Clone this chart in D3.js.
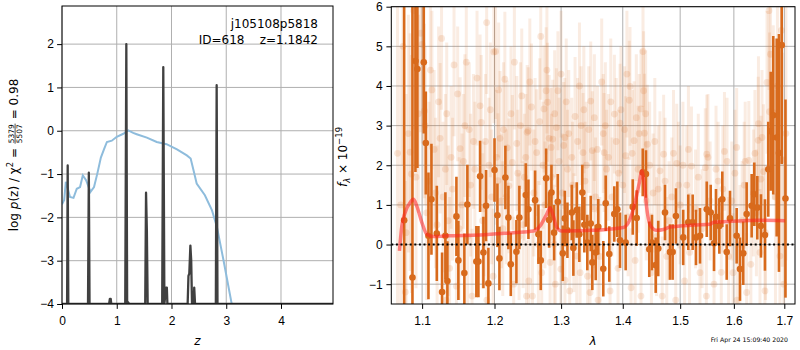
<!DOCTYPE html>
<html lang="en">
<head>
    <meta charset="UTF-8">
    <title>Redshift fit j105108p5818</title>
    <style>
        body {
            margin: 0;
            background-color: #ffffff;
        }
        svg {
            display: block;
            font-family: "DejaVu Sans", sans-serif;
        }
        .tick text {
            font-size: 12px;
            fill: #000;
        }
        .tick line {
            stroke: #000;
        }
    </style>
    <script src="https://d3js.org/d3.v7.min.js"></script>
</head>
<body>
    <svg width="800" height="350"></svg>
    <script>
        // p(z) curve (log, floored at -4)
        const pzZ = [0, 0.093, 0.104, 0.115, 0.475, 0.49, 0.503, 0.86, 0.875, 0.89, 0.90,
            1.155, 1.175, 1.19, 1.20, 1.23, 1.52, 1.535, 1.55, 1.565,
            1.83, 1.85, 1.87, 1.90, 1.915, 1.925,
            2.295, 2.31, 2.325, 2.345, 2.36, 2.375, 2.405, 2.415, 2.43,
            2.81, 2.825, 2.84, 4.95];
        const pzLog = [-4, -4, -0.8, -4, -4, -0.97, -4, -4, -3.88, -3.88, -4,
            -4, 2.0, -4, -3.95, -4, -4, -1.43, -2.3, -4,
            -4, 1.47, -4, -3.62, -3.62, -4,
            -4, -3.35, -3.3, -2.65, -3.0, -4, -4, -3.62, -4,
            -4, 1.05, -4, -4];

        // chi2 curve
        const chiZ = [0.0, 0.04, 0.07, 0.09, 0.146, 0.21, 0.27, 0.33, 0.38, 0.44, 0.52, 0.585,
            0.645, 0.71, 0.77, 0.82, 0.91, 1.0, 1.12, 1.21, 1.3, 1.365, 1.55, 1.73, 1.91,
            2.10, 2.28, 2.35, 2.40, 2.46, 2.61, 2.74, 2.83, 2.95, 3.10];
        const chiLog = [-1.7, -1.6, -1.18, -1.26, -1.53, -1.55, -1.34, -1.30, -1.03, -1.14, -1.41, -1.30,
            -0.99, -0.62, -0.42, -0.26, -0.23, -0.14, -0.07, 0.01, -0.05, -0.08, -0.16, -0.26, -0.31,
            -0.43, -0.57, -0.64, -0.9, -1.22, -1.49, -1.84, -2.22, -2.99, -4.0];

        const zTicks = [0, 1, 2, 3, 4];
        const logTicks = [-4, -3, -2, -1, 0, 1, 2];
        const lamTicks = [1.1, 1.2, 1.3, 1.4, 1.5, 1.6, 1.7];
        const fluxTicks = [-1, 0, 1, 2, 3, 4, 5, 6];

        // binned spectrum
        const binLam = [
            1.0765, 1.0873, 1.0912, 1.0938, 1.1022, 1.1049, 1.1084, 1.1124, 1.1196, 1.1267,
            1.1312, 1.1339, 1.1463, 1.1490, 1.1573, 1.1615, 1.1741, 1.1770, 1.1794, 1.1841,
            1.1879, 1.1912, 1.2000, 1.2042, 1.2071, 1.2158, 1.2202, 1.2237, 1.2320, 1.2364,
            1.2460, 1.2499, 1.2600, 1.2650, 1.2686, 1.2768, 1.2814, 1.2850, 1.2891, 1.2948,
            1.3026, 1.3058, 1.3099, 1.3168, 1.3193, 1.3247, 1.3288, 1.3336, 1.3368, 1.3416,
            1.3471, 1.3497, 1.3552, 1.3594, 1.3676, 1.3716, 1.3775, 1.3858, 1.3909, 1.3954,
            1.4049, 1.4169, 1.4237, 1.4340, 1.4396, 1.4453, 1.4500, 1.4565, 1.4610, 1.4729,
            1.4817, 1.4865, 1.4924, 1.5055, 1.5147, 1.5227, 1.5288, 1.5362, 1.5487, 1.5561,
            1.5623, 1.5660, 1.5723, 1.5779, 1.5863, 1.5926, 1.6054, 1.6118, 1.6182, 1.6248,
            1.6346, 1.6398, 1.6457, 1.6530, 1.6609, 1.6676, 1.6724, 1.6776, 1.6845, 1.6891,
            1.6947, 1.7024];
        const binFlux = [
            0.61, -0.83, 4.63, 4.43, 4.60, 2.56, 0.22, 1.14, 0.28, -1.20,
            0.22, -0.92, 0.71, -0.40, -0.72, 1.01, -0.43, -0.43, 1.72, -0.20,
            0.98, -0.98, 1.88, 0.74, -0.35, 1.69, 0.68, -0.50, -0.18, 0.68,
            1.25, 0.89, 1.12, 0.26, -0.40, 1.67, 0.62, 1.31, 0.30, 1.08,
            -0.22, 0.66, 0.36, 0.81, -0.09, 0.87, 0.26, 1.31, 0.50, 0.05,
            0.53, -0.45, -0.20, 0.45, -0.61, 1.04, -0.24, 0.77, 0.89, 0.11,
            0.05, 0.95, 0.67, 1.82, 1.78, -0.12, 0.05, -0.52, -0.10, 0.81,
            -0.19, -0.19, 0.72, 0.18, 0.56, 0.56, 0.18, 0.22, 0.89, 0.81,
            0.03, 0.70, 0.47, 1.14, -0.19, 0.66, 0.22, -0.62, -0.22, 0.77,
            0.98, 1.27, 0.93, 0.47, 0.24, 1.90, 2.86, 3.26, 2.70, 2.31,
            5.03, 1.16];
        const binErr = [
            8.0, 7.0, 2.8, 2.5, 1.8, 1.3, 1.6, 1.4, 1.2, 1.0,
            1.1, 1.0, 1.0, 1.0, 1.0, 1.0, 0.9, 0.9, 0.9, 0.9,
            0.9, 0.9, 0.8, 0.8, 0.8, 0.8, 0.8, 0.8, 0.8, 0.8,
            0.8, 0.75, 0.75, 0.75, 0.75, 0.75, 0.7, 0.7, 0.7, 0.7,
            0.7, 0.7, 0.7, 0.7, 0.7, 0.7, 0.7, 0.7, 0.7, 0.7,
            0.7, 0.7, 0.7, 0.7, 0.7, 0.7, 0.7, 0.7, 0.7, 0.7,
            0.7, 0.7, 0.7, 0.6, 0.6, 0.7, 0.7, 0.7, 0.7, 0.7,
            0.7, 0.7, 0.7, 0.7, 0.7, 0.7, 0.7, 0.7, 0.7, 0.7,
            0.7, 0.7, 0.7, 0.7, 0.7, 0.7, 0.7, 0.8, 0.8, 0.8,
            0.8, 0.8, 0.8, 0.8, 0.9, 1.2, 1.5, 2.0, 2.5, 3.0,
            3.0, 2.5];

        // unbinned spectrum (faint)
        const rawLam = [
            1.068, 1.072, 1.075, 1.079, 1.082, 1.0843, 1.086, 1.089, 1.092, 1.095,
            1.098, 1.100, 1.103, 1.106, 1.109, 1.113, 1.116, 1.120, 1.1241, 1.128,
            1.1312, 1.135, 1.139, 1.143, 1.1463, 1.1514, 1.154, 1.158, 1.162, 1.166,
            1.170, 1.1794, 1.181, 1.185, 1.1887, 1.192, 1.196, 1.199, 1.2015, 1.205,
            1.208, 1.212, 1.215, 1.2185, 1.221, 1.226, 1.2325, 1.236, 1.240, 1.244,
            1.248, 1.2496, 1.2505, 1.2545, 1.258, 1.2623, 1.265, 1.2686, 1.2700, 1.2735,
            1.2768, 1.279, 1.2814, 1.2829, 1.2846, 1.287, 1.2891, 1.2926, 1.295, 1.2995,
            1.3058, 1.310, 1.3135, 1.3168, 1.3220, 1.3247, 1.3300, 1.3315, 1.3347, 1.338,
            1.3460, 1.3471, 1.3497, 1.355, 1.3676, 1.3690, 1.3730, 1.3788, 1.3860, 1.3954,
            1.400, 1.4049, 1.4110, 1.4123, 1.4140, 1.4192, 1.4280, 1.4310, 1.4345, 1.4355,
            1.4370, 1.4420, 1.4490, 1.452, 1.4641, 1.4705, 1.476, 1.4850, 1.4938, 1.5080,
            1.512, 1.5205, 1.528, 1.5362, 1.5460, 1.5487, 1.555, 1.5623, 1.570, 1.5820,
            1.590, 1.5985, 1.6054, 1.6118, 1.6220, 1.6248, 1.6290, 1.638, 1.6475, 1.6480,
            1.6510, 1.6530, 1.6580, 1.6609, 1.6650, 1.6690, 1.6700, 1.6776, 1.6911, 1.6960,
            1.7033, 1.078, 1.118, 1.137, 1.150, 1.168, 1.183, 1.198, 1.210, 1.228,
            1.242, 1.256, 1.275, 1.291, 1.302, 1.320, 1.342, 1.352, 1.362, 1.382,
            1.392, 1.409, 1.421, 1.440, 1.458, 1.468, 1.480, 1.500, 1.517, 1.540,
            1.576, 1.596, 1.616, 1.633, 1.644, 1.662, 1.682, 1.699,
            1.104, 1.111, 1.122, 1.126, 1.133, 1.141, 1.148, 1.156, 1.160, 1.164,
            1.172, 1.175, 1.187, 1.194, 1.203, 1.206, 1.213, 1.217, 1.224, 1.229,
            1.234, 1.238, 1.246, 1.252, 1.260, 1.267, 1.272, 1.278, 1.285, 1.290,
            1.297, 1.300, 1.304, 1.308, 1.312, 1.318, 1.326, 1.329, 1.336, 1.340,
            1.344, 1.353, 1.358, 1.365, 1.371, 1.376, 1.380, 1.389, 1.393, 1.397,
            1.403, 1.407, 1.416, 1.423, 1.426, 1.439, 1.446, 1.455, 1.461, 1.473,
            1.488, 1.497, 1.505, 1.515, 1.533, 1.551, 1.566, 1.579, 1.587, 1.602,
            1.620, 1.641, 1.655, 1.672, 1.686, 1.694, 1.132, 1.189, 1.247, 1.306,
            1.359, 1.431, 1.492, 1.548, 1.606];
        const rawFlux = [
            2.3, 1.0, 5.0, 0.3, 2.8, 2.33, 1.78, 5.9, 1.7, 3.3,
            5.33, 5.05, 3.37, 0.8, 1.6, 3.9, 2.4, 0.5, 2.68, 1.2,
            1.9, 0.6, 2.2, 4.53, -1.05, 2.42, 1.0, 3.0, 0.2, 1.5,
            2.6, 3.5, 3.08, 0.9, 5.6, 2.0, 1.2, 4.86, 4.87, 1.61,
            2.68, 0.4, 4.17, 2.44, 1.48, 2.07, 2.55, 0.2, 3.75, 1.7,
            2.83, 2.87, -0.92, 3.47, 1.3, 2.32, 0.0, 5.25, -0.71, 3.42,
            3.88, 3.59, 2.68, -0.45, 2.45, 2.66, 0.01, 2.95, 3.88, -0.62,
            2.70, 1.9, -1.17, 2.2, 3.23, -0.29, -0.71, 3.0, 2.32, 1.6,
            -1.21, 3.62, 2.37, 1.2, 2.8, 2.32, 1.9, -1.17, 3.29, 3.06,
            1.5, 2.24, 3.64, 3.99, -1.09, 2.62, 2.80, 3.42, 4.87, 3.88,
            2.81, 2.53, -0.71, 1.3, 1.86, 2.28, -0.3, 1.2, 2.05, -0.92,
            1.5, 1.98, 0.9, -0.71, 1.94, 2.28, 1.1, -1.0, 1.6, 2.35,
            -0.3, -0.71, 2.45, 0.0, 2.10, -1.21, 2.12, 1.3, 2.63, 3.05,
            -0.2, 1.65, 1.84, -1.17, 4.09, 5.9, 3.35, 3.33, -0.29, 2.14,
            2.80, -1.2, 1.3, -0.6, 0.4, -1.3, 0.6, -0.8, 1.1, -1.0,
            0.5, -1.3, 1.0, -1.0, 1.3, 0.3, -0.8, 0.9, -0.3, 1.2,
            -0.6, 0.7, -0.4, 1.1, 0.2, -1.3, 0.6, 1.0, -0.2, 0.4,
            -0.7, 1.1, 0.6, -0.5, 0.8, 0.3, 1.2, -1.0,
            3.0, 4.4, 3.6, 5.2, 3.3, 1.4, 3.8, 2.1, 4.6, 2.9,
            1.9, 4.2, 2.6, 3.4, 2.2, 3.9, 2.9, 1.2, 3.3, 4.6,
            1.8, 3.0, 2.2, 4.1, 2.6, 3.1, 2.0, 4.4, 1.7, 3.3,
            2.1, 4.3, 2.5, 3.6, 2.8, 1.5, 2.6, 4.0, 3.4, 2.0,
            2.9, 3.2, 2.4, 4.1, 3.0, 2.2, 3.6, 2.6, 1.8, 3.4,
            2.9, 4.3, 2.3, 3.2, 1.9, 3.3, 2.0, 2.6, 1.4, 1.6,
            2.3, 1.5, 2.0, 2.4, 1.7, 2.2, 1.9, 1.4, 2.1, 1.8,
            1.5, 2.3, 2.7, 4.8, 4.0, 5.4, -1.4, -1.4, -1.3, -0.9,
            -1.4, -1.3, -1.4, -1.3, -1.4];
        const rawErr = [
            4.0, 4.0, 3.0, 3.5, 3.0, 3.0, 3.0, 3.0, 2.8, 2.5,
            2.5, 2.5, 2.2, 2.2, 2.0, 2.0, 2.0, 2.0, 1.9, 1.9,
            1.9, 1.9, 1.8, 1.8, 1.8, 1.8, 1.8, 1.8, 1.8, 1.8,
            1.7, 1.8, 1.7, 1.7, 1.8, 1.7, 1.7, 1.8, 1.7, 1.7,
            1.7, 1.7, 1.7, 1.7, 1.7, 1.7, 1.7, 1.6, 1.7, 1.6,
            1.7, 1.6, 1.6, 1.6, 1.6, 1.6, 1.6, 1.6, 1.6, 1.6,
            1.6, 1.5, 1.6, 1.5, 1.5, 1.5, 1.5, 1.5, 1.5, 1.5,
            1.5, 1.5, 1.5, 1.5, 1.5, 1.5, 1.5, 1.5, 1.5, 1.5,
            1.5, 1.5, 1.5, 1.5, 1.5, 1.5, 1.5, 1.5, 1.5, 1.5,
            1.5, 1.5, 1.5, 1.5, 1.5, 1.5, 1.5, 1.5, 1.4, 1.5,
            1.5, 1.5, 1.5, 1.5, 1.5, 1.5, 1.5, 1.5, 1.5, 1.5,
            1.5, 1.5, 1.5, 1.5, 1.5, 1.5, 1.5, 1.5, 1.5, 1.5,
            1.5, 1.5, 1.5, 1.5, 1.5, 1.5, 1.5, 1.6, 1.6, 1.7,
            1.6, 1.6, 1.7, 1.7, 1.8, 2.0, 2.0, 2.2, 2.7, 2.7,
            3.2, 2.8, 1.9, 1.8, 1.8, 1.7, 1.7, 1.7, 1.7, 1.7,
            1.6, 1.6, 1.6, 1.5, 1.5, 1.5, 1.5, 1.5, 1.5, 1.5,
            1.5, 1.5, 1.5, 1.5, 1.5, 1.5, 1.5, 1.5, 1.5, 1.5,
            1.5, 1.5, 1.5, 1.5, 1.6, 1.7, 2.7, 3.2,
            2.0, 2.0, 1.9, 1.8, 1.8, 1.8, 1.7, 1.7, 1.7, 1.7,
            1.7, 1.7, 1.7, 1.7, 1.7, 1.7, 1.7, 1.7, 1.7, 1.7,
            1.6, 1.6, 1.6, 1.6, 1.6, 1.6, 1.6, 1.6, 1.6, 1.6,
            1.6, 1.6, 1.6, 1.6, 1.6, 1.6, 1.6, 1.6, 1.6, 1.6,
            1.6, 1.6, 1.6, 1.6, 1.6, 1.6, 1.6, 1.6, 1.6, 1.6,
            1.6, 1.6, 1.6, 1.6, 1.6, 1.6, 1.6, 1.6, 1.6, 1.6,
            1.6, 1.6, 1.6, 1.6, 1.6, 1.6, 1.6, 1.6, 1.6, 1.6,
            1.6, 1.6, 1.7, 2.2, 2.5, 2.5, 1.6, 1.5, 1.4, 1.3,
            1.3, 1.3, 1.3, 1.3, 1.3];

        // model
        const modelLam = [1.0704, 1.0735, 1.0778, 1.0843, 1.0886, 1.0930, 1.0996, 1.1062, 1.1150, 1.1331,
            1.1794, 1.2275, 1.2574, 1.2676, 1.2778, 1.2829, 1.2871, 1.2932, 1.3010, 1.3514,
            1.4010, 1.4123, 1.4208, 1.4282, 1.4323, 1.4362, 1.4419, 1.4478, 1.4583, 1.4700,
            1.4818, 1.5239, 1.5547, 1.5610, 1.6182, 1.6510, 1.7013];
        const modelFlux = [-0.16, 0.47, 0.81, 1.06, 1.14, 0.97, 0.56, 0.26, 0.20, 0.22,
            0.24, 0.30, 0.34, 0.47, 0.77, 0.93, 0.77, 0.43, 0.34, 0.36,
            0.43, 0.64, 1.06, 1.57, 1.86, 1.57, 0.81, 0.47, 0.36, 0.38,
            0.44, 0.49, 0.51, 0.56, 0.60, 0.61, 0.60];

        const svg = d3.select("svg");
        svg.append("rect").attr("width", 800).attr("height", 350).attr("fill", "#fff");

        const orange = "#d86a1c";
        const gridColor = "#b0b0b0";

        // ---------------- left panel: p(z) ----------------
        const L = { x0: 62, x1: 333, y0: 6, y1: 304 };
        const zx = d3.scaleLinear().domain([0, 4.95]).range([L.x0, L.x1]);
        const zy = d3.scaleLinear().domain([-4, 2.88]).range([L.y1, L.y0]);

        const left = svg.append("g");
        left.append("clipPath").attr("id", "clipL")
            .append("rect").attr("x", L.x0).attr("y", L.y0)
            .attr("width", L.x1 - L.x0).attr("height", L.y1 - L.y0);

        zTicks.forEach(t => {
            left.append("line")
                .attr("x1", zx(t)).attr("x2", zx(t))
                .attr("y1", L.y0).attr("y2", L.y1)
                .attr("stroke", gridColor).attr("stroke-width", 1);
        });
        logTicks.forEach(t => {
            left.append("line")
                .attr("x1", L.x0).attr("x2", L.x1)
                .attr("y1", zy(t)).attr("y2", zy(t))
                .attr("stroke", gridColor).attr("stroke-width", 1);
        });

        const plotL = left.append("g").attr("clip-path", "url(#clipL)");

        const chiLine = d3.line().x((d, i) => zx(chiZ[i])).y(d => zy(d));
        plotL.append("path")
            .attr("d", chiLine(chiLog))
            .attr("fill", "none")
            .attr("stroke", "#8ebcdc")
            .attr("stroke-width", 2);

        const pzLine = d3.line().x((d, i) => zx(pzZ[i])).y(d => zy(d));
        plotL.append("path")
            .attr("d", pzLine(pzLog))
            .attr("fill", "none")
            .attr("stroke", "#404040")
            .attr("stroke-width", 2.3)
            .attr("stroke-linejoin", "round");

        left.append("g")
            .attr("transform", `translate(0,${L.y1})`)
            .call(d3.axisBottom(zx).tickValues(zTicks).tickFormat(d3.format("d"))
                .tickSize(4.9).tickPadding(7.4))
            .call(g => g.select(".domain").remove());

        left.append("g")
            .attr("transform", `translate(${L.x0},0)`)
            .call(d3.axisLeft(zy).tickValues(logTicks).tickFormat(d => d3.format("d")(d).replace("-", "\u2212"))
                .tickSize(4.9).tickPadding(3.2))
            .call(g => g.select(".domain").remove());

        left.append("rect")
            .attr("x", L.x0).attr("y", L.y0)
            .attr("width", L.x1 - L.x0).attr("height", L.y1 - L.y0)
            .attr("fill", "none").attr("stroke", "#000").attr("stroke-width", 1);

        left.append("text")
            .attr("x", 318).attr("y", 27.5)
            .attr("text-anchor", "end").attr("font-size", 12)
            .text("j105108p5818");
        left.append("text")
            .attr("x", 318).attr("y", 43.5)
            .attr("text-anchor", "end").attr("font-size", 12)
            .text("ID=618\u00a0\u00a0\u00a0\u00a0z=1.1842");

        left.append("text")
            .attr("x", (L.x0 + L.x1) / 2).attr("y", 345)
            .attr("text-anchor", "middle").attr("font-size", 12)
            .attr("font-style", "italic")
            .text("z");

        // y label with a stacked fraction
        const ylab = svg.append("g");
        const t1 = ylab.append("text").attr("font-size", 12);
        t1.append("tspan").text("log ");
        t1.append("tspan").attr("font-style", "italic").text("p");
        t1.append("tspan").text("(z) / \u03c7");
        t1.append("tspan").attr("font-size", 8.5).attr("dy", -5).text("2");
        t1.append("tspan").attr("dy", 5).text("\u00a0=\u00a0");
        const w1 = t1.node().getComputedTextLength();
        const num = ylab.append("text").attr("font-size", 7.5).attr("y", -3.6).text("5379");
        const den = ylab.append("text").attr("font-size", 7.5).attr("y", 4.3).text("5507");
        const fw = Math.max(num.node().getComputedTextLength(), den.node().getComputedTextLength());
        num.attr("x", w1 + 1);
        den.attr("x", w1 + 1);
        ylab.append("line")
            .attr("x1", w1 + 0.5).attr("x2", w1 + fw + 1.5)
            .attr("y1", -2.4).attr("y2", -2.4)
            .attr("stroke", "#000").attr("stroke-width", 0.7);
        const t3 = ylab.append("text").attr("font-size", 12)
            .attr("x", w1 + fw + 2).text("\u00a0=\u00a00.98");
        const wTot = w1 + fw + 2 + t3.node().getComputedTextLength();
        ylab.attr("transform", `translate(17.5,${155 + wTot / 2}) rotate(-90)`);

        // ---------------- right panel: spectrum ----------------
        const R = { x0: 391.3, x1: 795, y0: 6.7, y1: 304 };
        const lx = d3.scaleLog().domain([1.06, 1.722]).range([R.x0, R.x1]);
        const fy = d3.scaleLinear().domain([-1.5, 6]).range([R.y1, R.y0]);

        const right = svg.append("g");
        right.append("clipPath").attr("id", "clipR")
            .append("rect").attr("x", R.x0).attr("y", R.y0)
            .attr("width", R.x1 - R.x0).attr("height", R.y1 - R.y0);

        lamTicks.forEach(t => {
            right.append("line")
                .attr("x1", lx(t)).attr("x2", lx(t))
                .attr("y1", R.y0).attr("y2", R.y1)
                .attr("stroke", gridColor).attr("stroke-width", 1);
        });
        fluxTicks.forEach(t => {
            right.append("line")
                .attr("x1", R.x0).attr("x2", R.x1)
                .attr("y1", fy(t)).attr("y2", fy(t))
                .attr("stroke", gridColor).attr("stroke-width", 1);
        });

        const plotR = right.append("g").attr("clip-path", "url(#clipR)");

        // faint unbinned points
        plotR.selectAll(".rawbar").data(rawFlux).enter().append("line")
            .attr("x1", (d, i) => lx(rawLam[i])).attr("x2", (d, i) => lx(rawLam[i]))
            .attr("y1", (d, i) => fy(d - rawErr[i])).attr("y2", (d, i) => fy(d + rawErr[i]))
            .attr("stroke", orange).attr("stroke-opacity", 0.13).attr("stroke-width", 3);
        plotR.selectAll(".rawpt").data(rawFlux).enter().append("circle")
            .attr("cx", (d, i) => lx(rawLam[i])).attr("cy", d => fy(d))
            .attr("r", 3.4)
            .attr("fill", orange).attr("fill-opacity", 0.16);

        // binned points
        plotR.selectAll(".binbar").data(binFlux).enter().append("line")
            .attr("x1", (d, i) => lx(binLam[i])).attr("x2", (d, i) => lx(binLam[i]))
            .attr("y1", (d, i) => fy(d - binErr[i])).attr("y2", (d, i) => fy(d + binErr[i]))
            .attr("stroke", orange).attr("stroke-width", 2.6);
        plotR.selectAll(".binpt").data(binFlux).enter().append("circle")
            .attr("cx", (d, i) => lx(binLam[i])).attr("cy", d => fy(d))
            .attr("r", 3.3)
            .attr("fill", orange);

        // model
        const modelLine = d3.line().x((d, i) => lx(modelLam[i])).y(d => fy(d)).curve(d3.curveMonotoneX);
        plotR.append("path")
            .attr("d", modelLine(modelFlux))
            .attr("fill", "none")
            .attr("stroke", "#ff2020")
            .attr("stroke-opacity", 0.55)
            .attr("stroke-width", 3.5);

        // zero line
        plotR.append("line")
            .attr("x1", R.x0).attr("x2", R.x1)
            .attr("y1", fy(0)).attr("y2", fy(0))
            .attr("stroke", "#000").attr("stroke-width", 2)
            .attr("stroke-dasharray", "2,2.6");

        right.append("g")
            .attr("transform", `translate(0,${R.y1})`)
            .call(d3.axisBottom(lx).tickValues(lamTicks).tickFormat(d3.format(".1f"))
                .tickSize(4.9).tickPadding(7.4))
            .call(g => g.select(".domain").remove());

        right.append("g")
            .attr("transform", `translate(${R.x0},0)`)
            .call(d3.axisLeft(fy).tickValues(fluxTicks).tickFormat(d => d3.format("d")(d).replace("-", "\u2212"))
                .tickSize(4.9).tickPadding(3.8))
            .call(g => g.select(".domain").remove());

        right.append("rect")
            .attr("x", R.x0).attr("y", R.y0)
            .attr("width", R.x1 - R.x0).attr("height", R.y1 - R.y0)
            .attr("fill", "none").attr("stroke", "#000").attr("stroke-width", 1);

        right.append("text")
            .attr("x", (R.x0 + R.x1) / 2).attr("y", 345)
            .attr("text-anchor", "middle").attr("font-size", 12)
            .attr("font-style", "italic")
            .text("\u03bb");

        const flab = svg.append("text")
            .attr("transform", "translate(346.5,157) rotate(-90)")
            .attr("text-anchor", "middle").attr("font-size", 12);
        flab.append("tspan").attr("font-style", "italic").text("f");
        flab.append("tspan").attr("font-style", "italic").attr("font-size", 8.5).attr("dy", 3).text("\u03bb");
        flab.append("tspan").attr("dy", -3).text("\u00a0\u00d7\u00a010");
        flab.append("tspan").attr("font-size", 8.5).attr("dy", -5).text("\u221219");

        svg.append("text")
            .attr("x", 788).attr("y", 342)
            .attr("text-anchor", "end").attr("font-size", 6.2)
            .text("Fri Apr 24 15:09:40 2020");
    </script>
</body>
</html>
